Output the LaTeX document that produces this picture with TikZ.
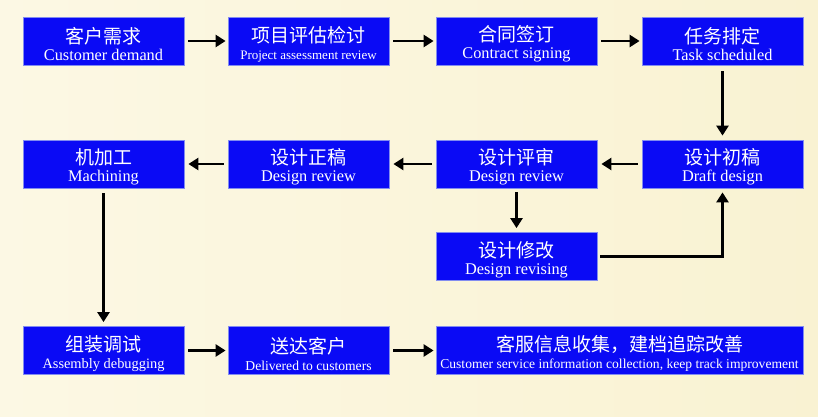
\documentclass[tikz,border=0pt]{standalone}
\usepackage{fontspec}
\setmainfont{Liberation Serif}
\newfontfamily\cjk{Noto Sans CJK SC}
\usetikzlibrary{arrows.meta}
\definecolor{boxblue}{RGB}{10,10,245}
\definecolor{boxedge}{RGB}{130,140,240}
\definecolor{bgleft}{RGB}{252,248,228}
\definecolor{bgright}{RGB}{249,242,210}
\newcommand{\cn}[1]{\raisebox{0pt}[\dimexpr\height+6pt\relax]{\cjk\fontsize{19}{19}\selectfont #1}}
\tikzset{
  stepbox/.style={draw=boxedge, line width=0.8pt, fill=boxblue, text=white,
    minimum width=161pt, minimum height=48pt, inner sep=0pt, align=center,
    font=\fontsize{16.3}{17}\selectfont},
  flow/.style={line width=2.6pt, draw=black,
    -{Triangle[length=10pt,width=12pt]}},
}
\begin{document}
\begin{tikzpicture}[x=1pt,y=-1pt]
\shade[left color=bgleft, right color=bgright] (0,0) rectangle (818,417);
\useasboundingbox (0,0) rectangle (818,417);

\node[stepbox] (n1) at (103.5,41) {\cn{客户需求}\\Customer demand};
\node[stepbox] (n2) at (308.5,41) {\cn{项目评估检讨}\\{\fontsize{13}{13}\selectfont Project assessment review}};
\node[stepbox] (n3) at (516.5,41) {\cn{合同签订}\\Contract signing};
\node[stepbox] (n4) at (722.5,41) {\cn{任务排定}\\Task scheduled};

\node[stepbox] (n5) at (722.5,164) {\cn{设计初稿}\\Draft design};
\node[stepbox] (n6) at (516.5,164) {\cn{设计评审}\\Design review};
\node[stepbox] (n7) at (308.5,164) {\cn{设计正稿}\\Design review};
\node[stepbox] (n8) at (103.5,164) {\cn{机加工}\\Machining};

\node[stepbox] (rev) at (516.5,256.5) {\cn{设计修改}\\Design revising};

\node[stepbox] (n9) at (103.5,350.5) {\cn{组装调试}\\{\fontsize{14.4}{14.4}\selectfont Assembly debugging}};
\node[stepbox] (n10) at (308.5,350.5) {\cn{送达客户}\\{\fontsize{13.6}{13.6}\selectfont Delivered to customers}};
\node[stepbox, minimum width=367pt] (n11) at (619.5,350.5) {\cn{客服信息收集，建档追踪改善}\\{\fontsize{13.6}{13.6}\selectfont Customer service information collection, keep track improvement}};

\draw[flow, shorten <=4pt, shorten >=2pt] (n1) -- (n2);
\draw[flow, shorten <=4pt, shorten >=2pt] (n2) -- (n3);
\draw[flow, shorten <=4pt, shorten >=2pt] (n3) -- (n4);
\draw[flow, shorten <=6pt, shorten >=4pt] (n4) -- (n5);
\draw[flow, shorten <=4pt, shorten >=4pt] (n5) -- (n6);
\draw[flow, shorten <=4pt, shorten >=4pt] (n6) -- (n7);
\draw[flow, shorten <=4pt, shorten >=4pt] (n7) -- (n8);
\draw[flow, shorten <=4pt, shorten >=4pt] (n6) -- (rev);
\draw[flow, shorten <=3pt, shorten >=4pt] (rev.east) -| (n5.south);
\draw[flow, shorten <=5pt, shorten >=4pt] (n8) -- (n9);
\draw[flow, shorten <=4pt, shorten >=2pt] (n9) -- (n10);
\draw[flow, shorten <=4pt, shorten >=2pt] (n10) -- (n11);
\end{tikzpicture}
\end{document}
